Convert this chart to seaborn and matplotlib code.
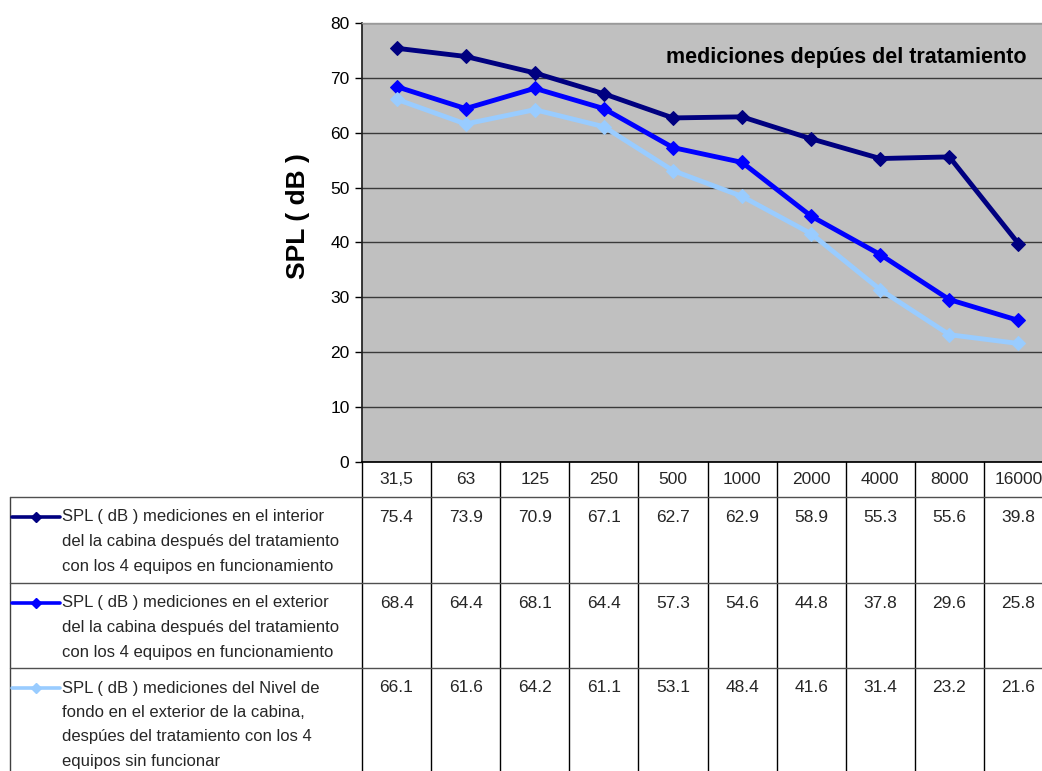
import matplotlib
matplotlib.use("Agg")
import matplotlib.pyplot as plt
import matplotlib.transforms as mtransforms
from matplotlib.lines import Line2D
import seaborn as sns
import pandas as pd

sns.set_theme(style="white")
plt.rcParams["font.family"] = ["Liberation Sans", "DejaVu Sans"]

freq_labels = ["31,5", "63", "125", "250", "500", "1000", "2000", "4000", "8000", "16000"]
interior_on = [75.4, 73.9, 70.9, 67.1, 62.7, 62.9, 58.9, 55.3, 55.6, 39.8]
exterior_on = [68.4, 64.4, 68.1, 64.4, 57.3, 54.6, 44.8, 37.8, 29.6, 25.8]
fondo_off = [66.1, 61.6, 64.2, 61.1, 53.1, 48.4, 41.6, 31.4, 23.2, 21.6]

series_names = [
    "SPL ( dB ) mediciones en el interior\ndel la cabina después del tratamiento\ncon los 4 equipos en funcionamiento",
    "SPL ( dB ) mediciones en el exterior\ndel la cabina después del tratamiento\ncon los 4 equipos en funcionamiento",
    "SPL ( dB ) mediciones del Nivel de\nfondo en el exterior de la cabina,\ndespúes del tratamiento con los 4\nequipos sin funcionar",
]
series_values = [interior_on, exterior_on, fondo_off]
series_colors = ["#000080", "#0000FF", "#99CCFF"]

W, H = 1042, 771
fig = plt.figure(figsize=(W / 100, H / 100), dpi=100)
fig.patch.set_facecolor("white")


def fx(x):
    return x / W


def fy(y):
    return 1 - y / H


ax_left, ax_top, ax_bottom, col_w = 362, 23, 462, 69.1
ax = fig.add_axes([fx(ax_left), fy(ax_bottom), 10 * col_w / W, (ax_bottom - ax_top) / H])
ax.set_facecolor("#C0C0C0")

positions = list(range(len(freq_labels)))
for name, vals, color in zip(series_names, series_values, series_colors):
    df = pd.DataFrame({"pos": positions, "spl": vals})
    sns.lineplot(data=df, x="pos", y="spl", ax=ax, color=color, linewidth=3.5,
                 marker="D", markersize=7, markeredgecolor=color, zorder=3)

ax.set_xlim(-0.5, 9.5)
ax.set_ylim(0, 80)
ax.set_yticks(range(0, 81, 10))
ax.yaxis.grid(True, color="#3a3a3a", linewidth=1)
ax.set_axisbelow(True)
ax.set_xticks([])
ax.set_xlabel("")
ax.set_ylabel("")
ax.tick_params(axis="y", which="both", left=True, length=5, width=1, color="black",
               labelsize=12.5, pad=4, labelcolor="black")
for side in ["top", "right"]:
    ax.spines[side].set_color("#9a9a9a")
    ax.spines[side].set_linewidth(1)
ax.spines["left"].set_color("#202020")
ax.spines["bottom"].set_color("#000000")
for s in ax.spines.values():
    s.set_visible(True)

fig.text(fx(298), fy(216), "SPL ( dB )", rotation=90, ha="center", va="center",
         fontsize=19, fontweight="bold", color="black")

ax.text(fx(1026), fy(57), "mediciones depúes del tratamiento", transform=fig.transFigure,
        ha="right", va="center", fontsize=15.5, fontweight="bold", color="black")

# data table below the plot
blend = mtransforms.blended_transform_factory(ax.transData, fig.transFigure)
row_tops = [497, 583, 668]
table_bottom = H

for i in range(len(freq_labels) + 1):
    fig.add_artist(Line2D([i - 0.5, i - 0.5], [fy(ax_bottom), fy(table_bottom)],
                          transform=blend, color="black", linewidth=1))
fig.add_artist(Line2D([fx(10), fx(10)], [fy(row_tops[0]), fy(table_bottom)],
                      transform=fig.transFigure, color="#404040", linewidth=1))
for yt in row_tops:
    fig.add_artist(Line2D([fx(10), fx(W + 20)], [fy(yt), fy(yt)],
                          transform=fig.transFigure, color="#505050", linewidth=1))

for i, lab in enumerate(freq_labels):
    fig.text(i, fy(480), lab, transform=blend, ha="center", va="center", fontsize=12.5)

line_gap = 24.5
for r, (name, vals, color) in enumerate(zip(series_names, series_values, series_colors)):
    y0 = row_tops[r] + 20
    fig.add_artist(Line2D([fx(12), fx(60)], [fy(y0), fy(y0)], transform=fig.transFigure,
                          color=color, linewidth=2.6))
    fig.add_artist(Line2D([fx(36)], [fy(y0)], transform=fig.transFigure, color=color,
                          marker="D", markersize=5.5, markeredgecolor=color))
    for k, line in enumerate(name.split("\n")):
        fig.text(fx(62), fy(y0 + k * line_gap), line, ha="left", va="center", fontsize=12)
    for i, v in enumerate(vals):
        fig.text(i, fy(y0), f"{v:.1f}", transform=blend, ha="center", va="center", fontsize=12.5)

fig.savefig("out.png", dpi=100, facecolor="white")
